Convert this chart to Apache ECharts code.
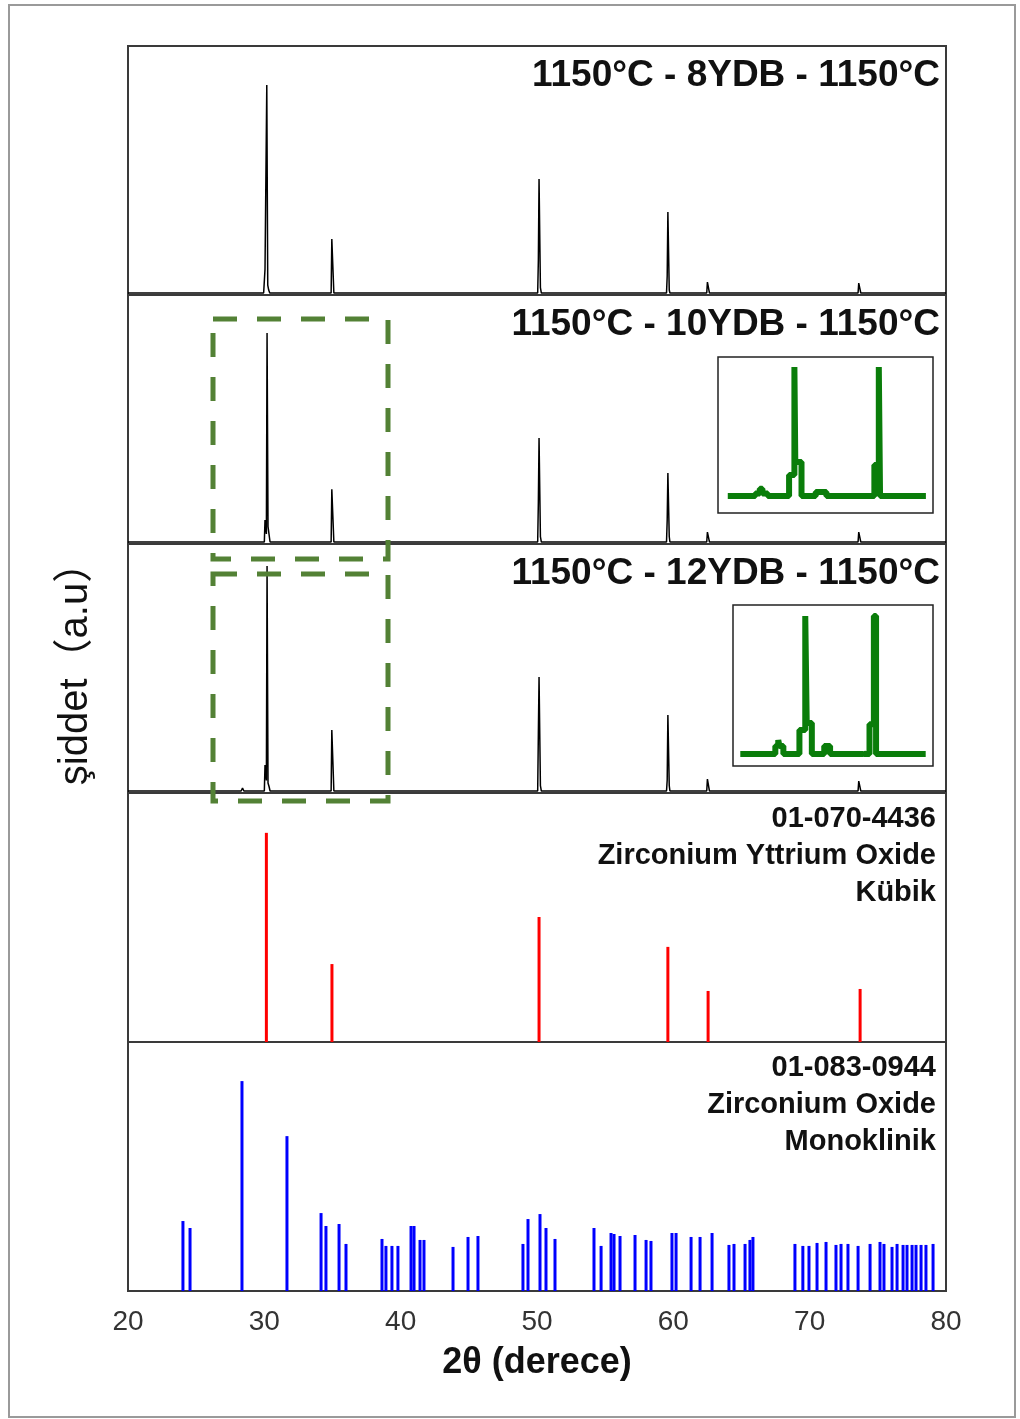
<!DOCTYPE html>
<html>
<head>
<meta charset="utf-8">
<script src="https://cdn.jsdelivr.net/npm/echarts@6/dist/echarts.min.js"></script>
<style>
  html, body { margin: 0; padding: 0; background: #fff; }
  #chart { width: 1020px; height: 1419px; }
</style>
</head>
<body>
<div id="chart"></div>
<script>
// 2theta axis
const xMin = 20;
const xMax = 80;
const xStep = 10;

// measured patterns, [2theta, intensity %]
const ydb8 = [
  [20, 0.8], [29.95, 0.8], [30.05, 10.4], [30.15, 10.4], [30.18, 84.3], [30.22, 84.3], [30.25, 4], [30.32, 2], [30.4, 0.8],
  [34.9, 0.8], [34.95, 22.5], [35.05, 22.5], [35.1, 0.8],
  [50.05, 0.8], [50.1, 14], [50.15, 46.6], [50.2, 46.6], [50.25, 3], [50.32, 0.8],
  [59.5, 0.8], [59.55, 7.6], [59.6, 33.3], [59.65, 33.3], [59.7, 2], [59.75, 0.8],
  [62.45, 0.8], [62.5, 5.2], [62.58, 5.2], [62.65, 0.8],
  [73.55, 0.8], [73.6, 4.8], [73.68, 4], [73.75, 0.8], [80, 0.8]
];
const ydb10 = [
  [20, 0.8], [28.3, 0.8], [28.4, 1.6], [28.5, 0.8],
  [30.0, 0.8], [30.05, 9.6], [30.1, 10], [30.15, 4], [30.2, 84.7], [30.23, 84.7], [30.27, 7], [30.35, 7.5], [30.42, 0.8],
  [31.6, 0.8], [31.7, 1.4], [31.8, 0.8],
  [34.9, 0.8], [34.95, 22], [35.05, 22], [35.1, 0.8],
  [50.05, 0.8], [50.1, 17], [50.15, 42.6], [50.2, 42.6], [50.25, 3], [50.32, 0.8],
  [59.5, 0.8], [59.55, 9.6], [59.6, 28.5], [59.65, 28.5], [59.7, 3], [59.75, 0.8],
  [62.45, 0.8], [62.5, 4.8], [62.58, 4.8], [62.65, 0.8],
  [73.55, 0.8], [73.6, 4.8], [73.68, 4], [73.75, 0.8], [80, 0.8]
];
const ydb12 = [
  [20, 0.8], [28.3, 0.8], [28.4, 2], [28.5, 0.8],
  [30.0, 0.8], [30.05, 11.2], [30.12, 11.2], [30.15, 5], [30.2, 91.2], [30.23, 91.2], [30.27, 4], [30.35, 2.5], [30.42, 0.8],
  [31.6, 0.8], [31.7, 1.6], [31.8, 0.8],
  [34.9, 0.8], [34.95, 25.3], [35.05, 25.3], [35.1, 0.8],
  [50.05, 0.8], [50.1, 24], [50.15, 46.6], [50.2, 46.6], [50.25, 3], [50.32, 0.8],
  [59.5, 0.8], [59.55, 5.2], [59.6, 31.3], [59.65, 31.3], [59.7, 3], [59.75, 0.8],
  [62.45, 0.8], [62.5, 5.6], [62.58, 5.6], [62.65, 0.8],
  [73.55, 0.8], [73.6, 4.8], [73.68, 4], [73.75, 0.8], [80, 0.8]
];

// reference cards
const cubicPeaks = [[30.15, 84], [34.96, 31.3], [50.15, 50.2], [59.6, 38.2], [62.55, 20.5], [73.7, 21.3]];
const monoPeaks = [
  [24.03, 28.1], [24.55, 25.3], [28.36, 84.3], [31.66, 62.2], [34.16, 31.3], [34.52, 26.1],
  [35.48, 26.9], [35.99, 18.9], [38.63, 20.9], [38.92, 18.1], [39.36, 18.1], [39.8, 18.1],
  [40.76, 26.1], [40.98, 26.1], [41.42, 20.5], [41.71, 20.5], [43.84, 17.7], [44.94, 21.7],
  [45.67, 22.1], [48.97, 18.9], [49.34, 28.9], [50.22, 30.9], [50.66, 25.3], [51.32, 20.9],
  [54.18, 25.3], [54.7, 18.1], [55.43, 23.3], [55.65, 22.9], [56.09, 22.1], [57.19, 22.5],
  [58.0, 20.5], [58.36, 20.1], [59.9, 23.3], [60.2, 23.3], [61.3, 21.7], [61.96, 21.7],
  [62.84, 23.3], [64.08, 18.5], [64.45, 18.9], [65.26, 18.9], [65.62, 20.5], [65.84, 21.7],
  [68.92, 18.9], [69.5, 18.1], [69.95, 18.1], [70.54, 19.3], [71.2, 19.7], [71.93, 18.5],
  [72.3, 18.9], [72.81, 18.9], [73.55, 18.1], [74.43, 18.9], [75.16, 19.7], [75.45, 18.9],
  [76.04, 17.7], [76.41, 18.9], [76.85, 18.5], [77.14, 18.5], [77.51, 18.5], [77.8, 18.5],
  [78.17, 18.5], [78.53, 18.5], [79.05, 18.9]
];

// insets: zoom of the 26-38 deg region
const inset10 = [
  [26.45, 10.9], [28.0, 10.9], [28.0, 12.5], [28.25, 12.5], [28.25, 15.5], [28.4, 15.5], [28.4, 12.5], [28.7, 12.5], [28.7, 10.9],
  [29.9, 10.9], [29.9, 24.4], [30.2, 24.4], [30.2, 93.6], [30.25, 93.6], [30.25, 32.7], [30.6, 32.7], [30.6, 10.9],
  [31.4, 10.9], [31.4, 13.5], [32.0, 13.5], [32.0, 10.9],
  [34.7, 10.9], [34.7, 30.8], [34.95, 30.8], [34.95, 93.6], [35.02, 93.6], [35.02, 10.9], [37.6, 10.9]
];
const inset12 = [
  [25.7, 7.5], [28.1, 7.5], [28.1, 12.5], [28.3, 12.5], [28.3, 16.1], [28.38, 16.1], [28.38, 12.5], [28.65, 12.5], [28.65, 7.5],
  [29.75, 7.5], [29.75, 22.4], [30.15, 22.4], [30.15, 93.2], [30.25, 93.2], [30.25, 26.7], [30.6, 26.7], [30.6, 7.5],
  [31.45, 7.5], [31.45, 12.4], [31.85, 12.4], [31.85, 7.5],
  [34.1, 7.5], [34.1, 9], [34.15, 9], [34.15, 7.5],
  [34.55, 7.5], [34.55, 26], [34.85, 26], [34.85, 93.2], [35.0, 93.2], [35.0, 7.5], [38.4, 7.5]
];

const panelLabels = [
  ['1150°C - 8YDB - 1150°C'],
  ['1150°C - 10YDB - 1150°C'],
  ['1150°C - 12YDB - 1150°C'],
  ['01-070-4436', 'Zirconium Yttrium Oxide', 'Kübik'],
  ['01-083-0944', 'Zirconium Oxide', 'Monoklinik']
];
const xName = '2θ (derece)';
const yName = 'şiddet（a.u）';

const FONT = '"Liberation Sans", Arial, "Noto Sans CJK SC", sans-serif';
const plotLeft = 128, plotWidth = 818, panelTop = 46, panelH = 249;

const grids = [], xAxes = [], yAxes = [], series = [], graphics = [];

for (let i = 0; i < 5; i++) {
  const last = i === 4;
  grids.push({
    left: plotLeft, top: panelTop + panelH * i, width: plotWidth, height: panelH,
    show: true, borderColor: '#3a3a3a', borderWidth: 2, backgroundColor: 'transparent'
  });
  xAxes.push({
    type: 'value', gridIndex: i, min: xMin, max: xMax, interval: xStep,
    axisLine: { show: false }, axisTick: { show: false }, splitLine: { show: false },
    axisLabel: {
      show: last, margin: 17, fontSize: 28, color: '#333', fontFamily: FONT
    },
    name: last ? xName : '', nameLocation: 'middle', nameGap: 72,
    nameTextStyle: { fontSize: 36, fontWeight: 'bold', color: '#111', fontFamily: FONT, verticalAlign: 'middle' }
  });
  yAxes.push({
    type: 'value', gridIndex: i, min: 0, max: 100,
    show: false, splitLine: { show: false }
  });
}

// inset grids
grids.push({ left: 718, top: 357, width: 215, height: 156, show: true, borderColor: '#222', borderWidth: 1.5, backgroundColor: '#fff' });
grids.push({ left: 733, top: 605, width: 200, height: 161, show: true, borderColor: '#222', borderWidth: 1.5, backgroundColor: '#fff' });
xAxes.push({ type: 'value', gridIndex: 5, min: 25.9, max: 38, show: false, splitLine: { show: false } });
xAxes.push({ type: 'value', gridIndex: 6, min: 25.2, max: 38.9, show: false, splitLine: { show: false } });
yAxes.push({ type: 'value', gridIndex: 5, min: 0, max: 100, show: false, splitLine: { show: false } });
yAxes.push({ type: 'value', gridIndex: 6, min: 0, max: 100, show: false, splitLine: { show: false } });

[ydb8, ydb10, ydb12].forEach((d, i) => {
  series.push({
    type: 'line', xAxisIndex: i, yAxisIndex: i, data: d, showSymbol: false, silent: true,
    lineStyle: { color: '#000', width: 1.5 }
  });
});
series.push({
  type: 'bar', xAxisIndex: 3, yAxisIndex: 3, data: cubicPeaks, barWidth: 3, silent: true,
  itemStyle: { color: '#ff0000' }
});
series.push({
  type: 'bar', xAxisIndex: 4, yAxisIndex: 4, data: monoPeaks, barWidth: 3, silent: true,
  itemStyle: { color: '#0000ff' }
});
[inset10, inset12].forEach((d, i) => {
  series.push({
    type: 'line', xAxisIndex: 5 + i, yAxisIndex: 5 + i, data: d, showSymbol: false, silent: true,
    lineStyle: { color: '#0a7d0a', width: 6, join: 'bevel', cap: 'butt' }
  });
});

// panel captions
panelLabels.forEach((lines, i) => {
  const top = panelTop + panelH * i;
  lines.forEach((t, j) => {
    const big = lines.length === 1;
    graphics.push({
      type: 'text', x: big ? 940 : 936, y: big ? top + 30 : top + 26 + j * 37,
      style: {
        text: t, align: 'right', verticalAlign: 'middle',
        font: (big ? 'bold 37px ' : 'bold 29px ') + FONT, fill: '#111'
      }
    });
  });
});

// y title
graphics.push({
  type: 'text', x: 76, y: 664, rotation: Math.PI / 2,
  style: { text: yName, align: 'center', verticalAlign: 'middle', font: '40px ' + FONT, fill: '#111' }
});

// dashed selection boxes
const dashStyle = { fill: 'none', stroke: '#538135', lineWidth: 5, lineDash: [24, 20] };
graphics.push({ type: 'rect', shape: { x: 213, y: 319, width: 175, height: 240 }, style: dashStyle, z: 100 });
graphics.push({ type: 'rect', shape: { x: 213, y: 574, width: 175, height: 227 }, style: dashStyle, z: 100 });

// outer frame
graphics.push({ type: 'rect', shape: { x: 9, y: 5, width: 1006, height: 1412 }, style: { fill: 'none', stroke: '#9a9a9a', lineWidth: 2 }, z: -1 });

const chart = echarts.init(document.getElementById('chart'), null, { renderer: 'canvas' });
chart.setOption({
  animation: false,
  backgroundColor: '#fff',
  grid: grids,
  xAxis: xAxes,
  yAxis: yAxes,
  series: series,
  graphic: graphics
});
</script>
</body>
</html>
